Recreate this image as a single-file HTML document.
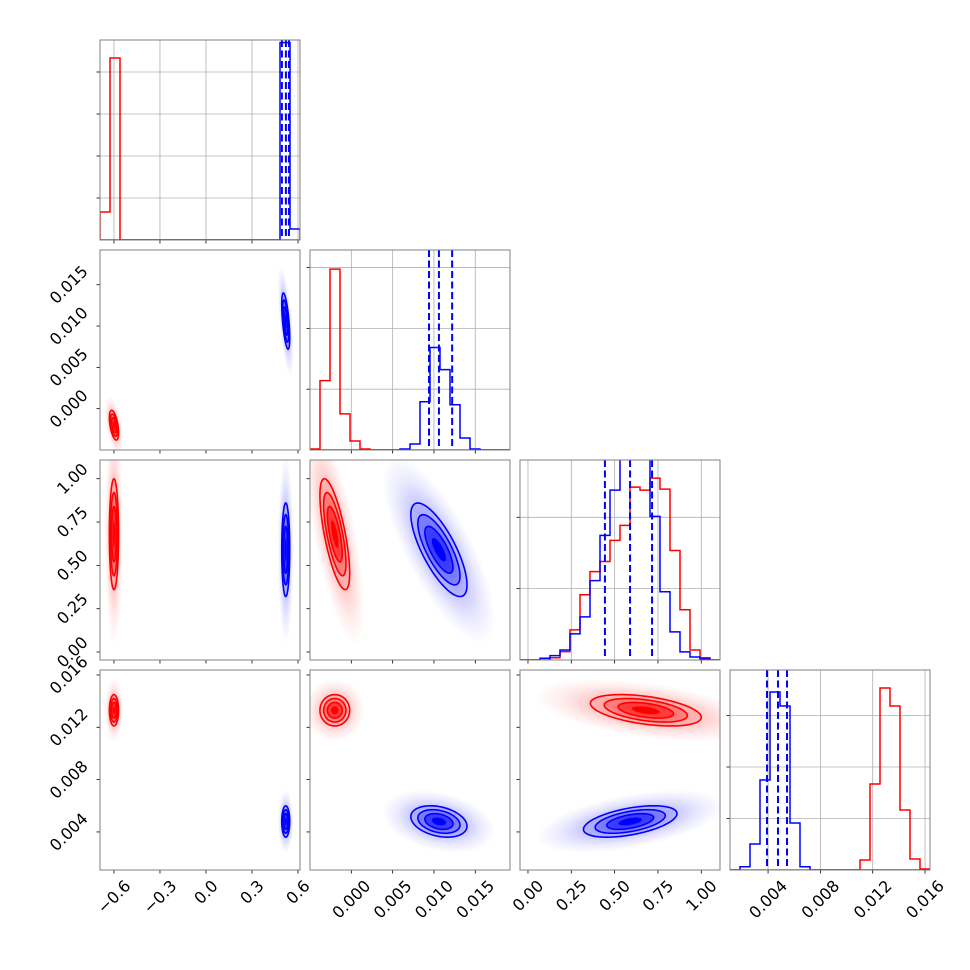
<!DOCTYPE html>
<html>
<head>
<meta charset="utf-8">
<style>
html,body{margin:0;padding:0;background:#fff;}
svg{display:block;}
text{font-family:"DejaVu Sans","Liberation Sans",sans-serif;font-size:16px;fill:#000;}
</style>
</head>
<body>
<svg id="chart" width="970" height="970" viewBox="0 0 970 970" xmlns="http://www.w3.org/2000/svg">
<defs>
<radialGradient id="gradRed" cx="50%" cy="50%" r="50%">
<stop offset="0" stop-color="#ff0000" stop-opacity="0.5"/>
<stop offset="0.4" stop-color="#ff0000" stop-opacity="0.25"/>
<stop offset="0.75" stop-color="#ff0000" stop-opacity="0.08"/>
<stop offset="1" stop-color="#ff0000" stop-opacity="0"/>
</radialGradient>
<radialGradient id="gradBlue" cx="50%" cy="50%" r="50%">
<stop offset="0" stop-color="#0000ff" stop-opacity="0.5"/>
<stop offset="0.4" stop-color="#0000ff" stop-opacity="0.25"/>
<stop offset="0.75" stop-color="#0000ff" stop-opacity="0.08"/>
<stop offset="1" stop-color="#0000ff" stop-opacity="0"/>
</radialGradient>
</defs>
</svg>
<script>
// ---- axis domains (data units) ----
const range0 = [-0.691, 0.613];
const range1 = [-0.005, 0.0192];
const range2 = [-0.046, 1.108];
const range3 = [0.00109, 0.01638];
// ---- tick values and labels ----
const ticks0 = [-0.6, -0.3, 0.0, 0.3, 0.6];
const tickLabels0 = ["\u22120.6", "\u22120.3", "0.0", "0.3", "0.6"];
const ticks1 = [0.0, 0.005, 0.010, 0.015];
const tickLabels1 = ["0.000", "0.005", "0.010", "0.015"];
const ticks2 = [0.0, 0.25, 0.5, 0.75, 1.0];
const tickLabels2 = ["0.00", "0.25", "0.50", "0.75", "1.00"];
const ticks3 = [0.004, 0.008, 0.012, 0.016];
const tickLabels3 = ["0.004", "0.008", "0.012", "0.016"];
// ---- histogram counts (20 bins each) ----
const histRed0 = [667,4333,0,0,0,0,0,0,0,0,0,0,0,0,0,0,0,0,0,0];
const histBlue0 = [0,0,0,0,0,0,0,0,0,0,0,0,0,0,0,0,0,0,4700,262];
const histRed1 = [17,1140,2975,595,149,17,0,0,0,0,0,0,0,0,0,0,0,0,0,0];
const histBlue1 = [0,0,0,0,0,0,0,0,0,17,99,793,1686,1322,744,198,17,0,0,0];
const histRed2 = [0,0,0,32,117,422,915,1239,1380,1676,1887,2422,2380,2549,2394,1535,704,141,32,0];
const histBlue2 = [0,0,24,61,141,366,605,1112,1746,2380,3030,3170,2960,2013,957,394,113,42,14,0];
const histRed3 = [0,0,0,0,0,0,0,0,0,0,0,0,0,194,1670,3534,3185,1165,214,19];
const histBlue3 = [0,64,505,1748,3457,3185,913,64,0,0,0,0,0,0,0,0,0,0,0,0];
const histMax = [4762, 3289, 2803, 3883];
const histTicks0 = [1000,2000,3000,4000];
const histTicks1 = [1000,2000,3000];
const histTicks2 = [1000,2000];
const histTicks3 = [1000,2000,3000];
// ---- blue quantiles (16/50/84%) ----
const quantBlue0 = [0.495, 0.521, 0.541];
const quantBlue1 = [0.0094, 0.0106, 0.0122];
const quantBlue2 = [0.444, 0.589, 0.716];
const quantBlue3 = [0.00392, 0.00476, 0.00545];
// ---- 2D distribution summaries ----
const meanRed = [-0.600, -0.0020, 0.68, 0.0133];
const sdRed = [0.015, 0.0009, 0.16, 0.0006];
const meanBlue = [0.520, 0.0106, 0.59, 0.0048];
const sdBlue = [0.013, 0.0017, 0.135, 0.0006];
// correlation for pairs (row,col): (1,0),(2,0),(2,1),(3,0),(3,1),(3,2)
const corrRed = [-0.5, 0.0, -0.7, 0.0, 0.0, -0.45];
const corrBlue = [-0.6, 0.0, -0.75, 0.0, -0.3, 0.5];

const ranges = [range0, range1, range2, range3];
const ticks = [ticks0, ticks1, ticks2, ticks3];
const tickLabels = [tickLabels0, tickLabels1, tickLabels2, tickLabels3];
const histsRed = [histRed0, histRed1, histRed2, histRed3];
const histsBlue = [histBlue0, histBlue1, histBlue2, histBlue3];
const histTicks = [histTicks0, histTicks1, histTicks2, histTicks3];
const quants = [quantBlue0, quantBlue1, quantBlue2, quantBlue3];

const NS = "http://www.w3.org/2000/svg";
const svg = document.getElementById("chart");
const defs = svg.querySelector("defs");
const colX = [100, 310, 520, 730];
const rowY = [40, 250, 460, 670];
const S = 200;
const FS = 16;

function mk(tag, attrs, parent) {
  const el = document.createElementNS(NS, tag);
  for (const k in attrs) el.setAttribute(k, attrs[k]);
  (parent || svg).appendChild(el);
  return el;
}
function sx(p, v) { const r = ranges[p]; return colX[p] + (v - r[0]) / (r[1] - r[0]) * S; }
function sy(p, v) { const r = ranges[p]; return rowY[p] + S - (v - r[0]) / (r[1] - r[0]) * S; }
function scaleX(p) { const r = ranges[p]; return S / (r[1] - r[0]); }
function scaleY(p) { const r = ranges[p]; return -S / (r[1] - r[0]); }
function hy(p, c) { return rowY[p] + S - c / histMax[p] * S; }
function labelW(s) {
  let L = 0;
  for (const ch of s) L += (ch === "." ? 0.318 : ch === "\u2212" ? 0.838 : 0.636) * FS;
  return (L + 0.72 * FS) * 0.707;
}
function clipFor(id, x, y) {
  const cp = mk("clipPath", {id: id}, defs);
  mk("rect", {x: x, y: y, width: S, height: S}, cp);
}

// ---------- diagonal histograms ----------
for (let p = 0; p < 4; p++) {
  const x0 = colX[p], y0 = rowY[p];
  const g = mk("g", {"clip-path": "url(#clipH" + p + ")"});
  
  
  clipFor("clipH" + p, x0, y0);
  ticks[p].forEach(function (t) {
    const gx = sx(p, t);
    const gl = mk("line", {x1: gx, x2: gx, y1: y0, y2: y0 + S, stroke: "#b0b0b0", "stroke-width": 0.8}, g);
    
    
  });
  histTicks[p].forEach(function (t) {
    const gy = hy(p, t);
    const gl = mk("line", {x1: x0, x2: x0 + S, y1: gy, y2: gy, stroke: "#b0b0b0", "stroke-width": 0.8}, g);
    
    
  });
  [[histsRed[p], "#ff0000", "red"], [histsBlue[p], "#0000ff", "blue"]].forEach(function (h) {
    const counts = h[0];
    const r = ranges[p];
    const bw = (r[1] - r[0]) / counts.length;
    const base = y0 + S;
    let d = "M" + sx(p, r[0]) + "," + base;
    counts.forEach(function (c, i) {
      const xa = sx(p, r[0] + i * bw), xb = sx(p, r[0] + (i + 1) * bw);
      d += " L" + xa + "," + hy(p, c) + " L" + xb + "," + hy(p, c);
    });
    d += " L" + sx(p, r[1]) + "," + base;
    const path = mk("path", {d: d, fill: "none", stroke: h[1], "stroke-width": 1.5}, g);
    
    
  });
  quants[p].forEach(function (q) {
    const qx = sx(p, q);
    const ql = mk("line", {x1: qx, x2: qx, y1: y0, y2: y0 + S, stroke: "#0000ff", "stroke-width": 2, "stroke-dasharray": "7,3.5"}, g);
    
    
  });
  histTicks[p].forEach(function (t) {
    const ty = hy(p, t);
    const tk = mk("line", {x1: x0 - 3.5, x2: x0, y1: ty, y2: ty, stroke: "#000", "stroke-width": 0.8});
    
    
  });
}

// ---------- 2D panels ----------
const pairs = [[1,0],[2,0],[2,1],[3,0],[3,1],[3,2]];
function drawCloud(g, i, j, mean, sd, rho, color, grad, tag) {
  const mx = mean[j], my = mean[i];
  const Lxx = sd[j], Lyx = rho * sd[i], Lyy = sd[i] * Math.sqrt(1 - rho * rho);
  const ax = scaleX(j), ay = scaleY(i);
  const cg = mk("g", {transform: "matrix(" + (ax * Lxx) + " " + (ay * Lyx) + " 0 " + (ay * Lyy) + " " + sx(j, mx) + " " + sy(i, my) + ")"}, g);
  const c = mk("circle", {cx: 0, cy: 0, r: 4.0, fill: "url(#" + grad + ")"}, cg);
  
  
  function pts(rr) {
    const out = [];
    for (let k = 0; k < 60; k++) {
      const t = k / 60 * 2 * Math.PI, ux = Math.cos(t), uy = Math.sin(t);
      const dx = mx + rr * Lxx * ux, dy = my + rr * (Lyx * ux + Lyy * uy);
      out.push(sx(j, dx).toFixed(2) + "," + sy(i, dy).toFixed(2));
    }
    return out.join(" ");
  }
  const levels = [2, 1.5, 1, 0.5];
  const alphas = [0.1, 0.22, 0.45, 1];
  levels.forEach(function (lv, k) {
    const f = mk("polygon", {points: pts(lv), fill: color, "fill-opacity": alphas[k], stroke: "none"}, g);
    
    
  });
  [2, 1.5, 1].forEach(function (lv) {
    const l = mk("polygon", {points: pts(lv), fill: "none", stroke: color, "stroke-width": 1.6}, g);
    
    
  });
}
pairs.forEach(function (pr, idx) {
  const i = pr[0], j = pr[1];
  const x0 = colX[j], y0 = rowY[i];
  clipFor("clipP" + i + j, x0, y0);
  const g = mk("g", {"clip-path": "url(#clipP" + i + j + ")"});
  
  
  drawCloud(g, i, j, meanRed, sdRed, corrRed[idx], "#ff0000", "gradRed", "red");
  drawCloud(g, i, j, meanBlue, sdBlue, corrBlue[idx], "#0000ff", "gradBlue", "blue");
  ticks[i].forEach(function (t) {
    const ty = sy(i, t);
    if (ty < y0 - 0.5 || ty > y0 + S + 0.5) return;
    const tk = mk("line", {x1: x0 - 3.5, x2: x0, y1: ty, y2: ty, stroke: "#000", "stroke-width": 0.8});
    
    
  });
});

// ---------- bottom ticks, frames, labels ----------
for (let i = 0; i < 4; i++) {
  for (let j = 0; j <= i; j++) {
    const x0 = colX[j], y0 = rowY[i];
    ticks[j].forEach(function (t, k) {
      const tx = sx(j, t);
      if (tx < x0 - 0.5 || tx > x0 + S + 0.5) return;
      const tk = mk("line", {x1: tx, x2: tx, y1: y0 + S, y2: y0 + S + 3.5, stroke: "#000", "stroke-width": 0.8});
      
      
      if (i === 3) {
        const s = tickLabels[j][k];
        const w = labelW(s);
        const cx = tx, cy = y0 + S + 9 + w / 2;
        const tl = mk("text", {x: cx, y: cy, "text-anchor": "middle", "dominant-baseline": "central", transform: "rotate(-45 " + cx + " " + cy + ")"});
        tl.textContent = s;
        
        
      }
    });
    if (j === 0 && i > 0) {
      ticks[i].forEach(function (t, k) {
        const ty = sy(i, t);
        if (ty < y0 - 0.5 || ty > y0 + S + 0.5) return;
        const s = tickLabels[i][k];
        const w = labelW(s);
        const cx = 89 - w / 2, cy = ty;
        const tl = mk("text", {x: cx, y: cy, "text-anchor": "middle", "dominant-baseline": "central", transform: "rotate(-45 " + cx + " " + cy + ")"});
        tl.textContent = s;
        
        
      });
    }
    const fr = mk("rect", {x: x0, y: y0, width: S, height: S, fill: "none", stroke: "#808080", "stroke-width": 1});
    
    
  }
}
</script>
</body>
</html>
